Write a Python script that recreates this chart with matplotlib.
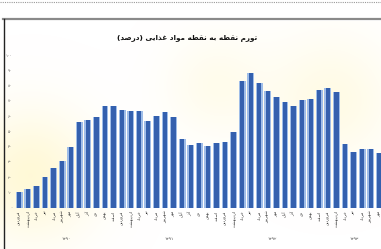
import numpy as np
import matplotlib
matplotlib.use('Agg')
import matplotlib.pyplot as plt
from matplotlib.lines import Line2D

# داده ها
title = 'تورم نقطه به نقطه مواد غذایی (درصد)'
month_names = ['فروردین', 'اردیبهشت', 'خرداد', 'تیر', 'مرداد', 'شهریور',
               'مهر', 'آبان', 'آذر', 'دی', 'بهمن', 'اسفند']
months = month_names * 3 + month_names[:7]
years = ['۱۳۹۰', '۱۳۹۱', '۱۳۹۲', '۱۳۹۳']
year_sizes = [12, 12, 12, 7]
values = [10.4, 11.9, 14.1, 20.2, 25.7, 30.7, 39.9, 56.3, 57.4, 59.5, 66.4, 66.6,
          63.9, 63.1, 63.3, 56.9, 59.8, 62.8, 59.5, 44.7, 40.7, 42.1, 40.3, 42.5,
          43.1, 49.7, 83.1, 88.0, 81.6, 76.4, 72.5, 69.2, 66.6, 70.5, 71.1, 77.0,
          78.4, 75.7, 41.6, 36.4, 38.4, 38.4, 35.7]
yticks = list(range(0, 101, 10))

# matplotlib حروف عربی را به هم وصل نمی کند، پس شکل های نمایشی را خودمان می سازیم
FORMS = {
    'ت': '\uFE95\uFE96\uFE97\uFE98', 'و': '\uFEED\uFEEE', 'ر': '\uFEAD\uFEAE',
    'م': '\uFEE1\uFEE2\uFEE3\uFEE4', 'ن': '\uFEE5\uFEE6\uFEE7\uFEE8',
    'ق': '\uFED5\uFED6\uFED7\uFED8', 'ط': '\uFEC1\uFEC2\uFEC3\uFEC4',
    'ه': '\uFEE9\uFEEA\uFEEB\uFEEC', 'ب': '\uFE8F\uFE90\uFE91\uFE92',
    'ا': '\uFE8D\uFE8E', 'د': '\uFEA9\uFEAA', 'ذ': '\uFEAB\uFEAC',
    'غ': '\uFECD\uFECE\uFECF\uFED0', 'ص': '\uFEB9\uFEBA\uFEBB\uFEBC',
    'ی': '\uFEEF\uFEF0\uFEF3\uFEF4', 'ف': '\uFED1\uFED2\uFED3\uFED4',
    'خ': '\uFEA5\uFEA6\uFEA7\uFEA8', 'ش': '\uFEB5\uFEB6\uFEB7\uFEB8',
    'س': '\uFEB1\uFEB2\uFEB3\uFEB4', 'آ': '\uFE81\uFE82',
}


def shape(text):
    out = []
    for i, ch in enumerate(text):
        f = FORMS.get(ch)
        if f is None:
            out.append(ch)
            continue
        prev = text[i - 1] if i > 0 else ''
        nxt = text[i + 1] if i + 1 < len(text) else ''
        jp = prev in FORMS and len(FORMS[prev]) == 4
        jn = len(f) == 4 and nxt in FORMS
        if jp and jn:
            out.append(f[3])
        elif jp:
            out.append(f[1])
        elif jn:
            out.append(f[2])
        else:
            out.append(f[0])
    s = ''.join(reversed(out))
    return s.translate(str.maketrans('()', ')('))


fa_digits = str.maketrans('0123456789', '۰۱۲۳۴۵۶۷۸۹')

W, H = 381, 249
fig = plt.figure(figsize=(W / 100, H / 100), dpi=100)

# پس زمینه با هاله زرد کمرنگ
bg = fig.add_axes([0, 0, 1, 1])
yy, xx = np.mgrid[0:H, 0:W]
glow = 0.55 * np.exp(-((xx - 30) ** 2 + (yy - 175) ** 2) / (2 * 45.0 ** 2))
glow += 0.35 * np.exp(-((xx - 330) ** 2 + (yy - 100) ** 2) / (2 * 45.0 ** 2))
glow += 0.25 * np.exp(-((xx - 215) ** 2 + (yy - 85) ** 2) / (2 * 35.0 ** 2))
glow[yy < 21] = 0
img = np.zeros((H, W, 4))
img[..., 0] = 1.0
img[..., 1] = 0.96
img[..., 2] = 0.72
img[..., 3] = np.clip(glow, 0, 1)
bg.imshow(img, extent=[0, W, H, 0], aspect='auto', interpolation='bilinear')
bg.set_xlim(0, W)
bg.set_ylim(H, 0)
bg.axis('off')

# قاب
fig.add_artist(Line2D([0, 1], [1 - 2.5 / H] * 2, color='#9a9a9a', lw=0.8,
                      linestyle=(0, (1, 1))))
fig.add_artist(Line2D([3 / W, 1], [1 - 19.5 / H] * 2, color='#8a8a8a', lw=1.6))
fig.add_artist(Line2D([3.5 / W] * 2, [0, 1 - 19 / H], color='#222222', lw=1.0))

fig.text(187 / W, 1 - 38 / H, shape(title), ha='center', va='center',
         fontsize=5.2, fontweight='bold', color='#111111')

ax = fig.add_axes([14 / W, 1 - 207.5 / H, (W - 14) / W, (207.5 - 55) / H])
ax.patch.set_alpha(0)
x = np.arange(len(values))
ax.bar(x, values, width=0.8, color='#9fbde8', zorder=2)
ax.bar(x, values, width=0.5, color='#3460ae', zorder=3)
ax.set_xlim(-0.62, 42.2)
ax.set_ylim(0, 100)
for s in ax.spines.values():
    s.set_visible(False)
ax.set_xticks([])
ax.set_yticks(yticks)
ax.set_yticklabels([str(t).translate(fa_digits) for t in yticks],
                   fontsize=2.8, color='#555555')
ax.tick_params(axis='y', length=0, pad=1.5)

trans = ax.get_xaxis_transform()
for i, m in enumerate(months):
    ax.text(i, -0.02, shape(m), rotation=90, ha='center', va='top',
            fontsize=3.0, color='#333333', transform=trans, clip_on=False)

start = 0
for yr, n in zip(years, year_sizes):
    ax.text(start + (n - 1) / 2, -0.207, yr, ha='center', va='center',
            fontsize=3.2, color='#444444', transform=trans, clip_on=False)
    start += n

fig.savefig('out.png', dpi=100)
